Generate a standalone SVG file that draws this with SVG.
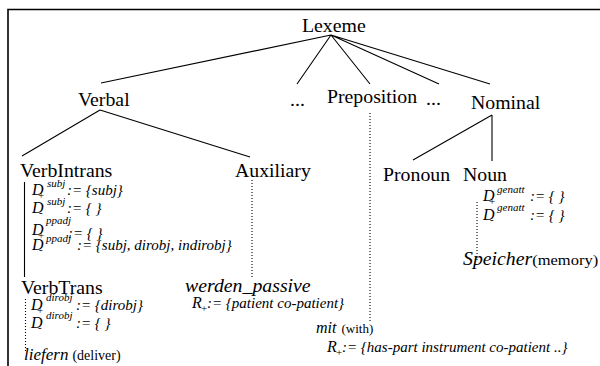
<svg xmlns="http://www.w3.org/2000/svg" width="600" height="366" viewBox="0 0 600 366" font-family="'Liberation Serif', 'Times New Roman', 'DejaVu Serif', serif">
<style>
text{font-family:"Liberation Serif","Times New Roman","DejaVu Serif",serif;fill:#000}
.n{font-size:18px}
.i{font-style:italic}
.d{font-size:16px;font-style:italic}
.s{font-size:11px;font-style:italic}
.sb{font-size:11px}
.e{font-size:15px;font-style:italic}
.r{font-size:14px}
.ln{stroke:#000;stroke-width:1.1;fill:none}
.dt{stroke:#000;stroke-width:1.1;stroke-dasharray:1 2;fill:none}
</style>
<rect width="600" height="366" fill="#fff"/>
<path d="M8 366V9.5H600" stroke="#000" stroke-width="1.6" fill="none"/>
<g id="connectors">
<path class="ln" d="M331 35L101 83M331 35L297 84M331 35L370 84M331 35L439 84M331 35L490 84"/>
<path class="ln" d="M100 110L22 156M100 110L250 157"/>
<path class="ln" d="M492 115L413 160M492 115L492 161"/>
<path class="ln" d="M24.5 182V277"/>
<path class="dt" d="M25.5 299V352"/>
<path class="dt" d="M252 180V279"/>
<path class="dt" d="M370 113V321"/>
<path class="dt" d="M477 202V262"/>
</g>
<g id="lexeme"><text class="n" transform="translate(302 32) scale(1.1 1)">Lexeme</text></g>
<g id="verbal"><text class="n" transform="translate(78 106) scale(1.1 1)">Verbal</text></g>
<g id="dots1"><text class="n" transform="translate(290 106) scale(1.1 1)">...</text></g>
<g id="preposition"><text class="n" transform="translate(327 103) scale(1.1 1)">Preposition</text></g>
<g id="dots2"><text class="n" transform="translate(426 105) scale(1.1 1)">...</text></g>
<g id="nominal"><text class="n" transform="translate(471 109) scale(1.1 1)">Nominal</text></g>
<g id="verbintrans">
<text class="n" transform="translate(20 177) scale(1.1 1)">VerbIntrans</text>
<text class="d" x="32" y="195">D</text><text class="s" x="47" y="187">subj</text><text class="sb" x="38" y="199">+</text><text class="e" x="67" y="195">:= {subj}</text>
<text class="d" x="32" y="213">D</text><text class="s" x="47" y="205">subj</text><text class="sb" x="39" y="216">-</text><text class="e" x="67" y="213">:= { }</text>
<text class="d" x="32" y="235">D</text><text class="s" x="46" y="224">ppadj</text><text class="sb" x="38" y="239">+</text><text class="e" x="68" y="238">:= { }</text>
<text class="d" x="32" y="250">D</text><text class="s" x="46" y="242">ppadj</text><text class="sb" x="39" y="253">-</text><text class="e" x="77" y="250">:= {subj, dirobj, indirobj}</text>
</g>
<g id="auxiliary"><text class="n" transform="translate(235 177) scale(1.1 1)">Auxiliary</text></g>
<g id="pronoun"><text class="n" transform="translate(383 181) scale(1.1 1)">Pronoun</text></g>
<g id="noun">
<text class="n" transform="translate(463 181) scale(1.1 1)">Noun</text>
<text class="d" x="483" y="201">D</text><text class="s" x="497" y="193">genatt</text><text class="sb" x="489" y="205">+</text><text class="e" x="530" y="201">:= { }</text>
<text class="d" x="483" y="220">D</text><text class="s" x="497" y="211">genatt</text><text class="sb" x="490" y="223">-</text><text class="e" x="530" y="220">:= { }</text>
</g>
<g id="verbtrans">
<text class="n" transform="translate(21 294) scale(1.1 1)">VerbTrans</text>
<text class="d" x="31" y="310">D</text><text class="s" x="46" y="301">dirobj</text><text class="sb" x="37" y="314">+</text><text class="e" x="76" y="310">:= {dirobj}</text>
<text class="d" x="31" y="328">D</text><text class="s" x="46" y="319">dirobj</text><text class="sb" x="38" y="331">-</text><text class="e" x="76" y="328">:= { }</text>
</g>
<g id="liefern"><text transform="translate(24 360)"><tspan class="i" font-size="17">liefern</tspan><tspan class="r" dx="4">(deliver)</tspan></text></g>
<g id="werden_passive">
<text class="n i" transform="translate(185 292) scale(1.1 1)">werden_passive</text>
<text class="d" x="192" y="308">R</text><text class="sb" x="201" y="312">+</text><text class="e" x="207" y="308">:= {patient co-patient}</text>
</g>
<g id="mit">
<text transform="translate(316 333)"><tspan class="i" font-size="16">mit</tspan><tspan font-size="13" dx="5">(with)</tspan></text>
<text class="d" x="327" y="352">R</text><text class="sb" x="336" y="356">+</text><text class="e" x="342" y="352">:= {has-part instrument co-patient ..}</text>
</g>
<g id="speicher"><text transform="translate(463 265) scale(1.1 1)"><tspan class="i" font-size="18">Speicher</tspan><tspan font-size="15">(memory)</tspan></text></g>
</svg>
